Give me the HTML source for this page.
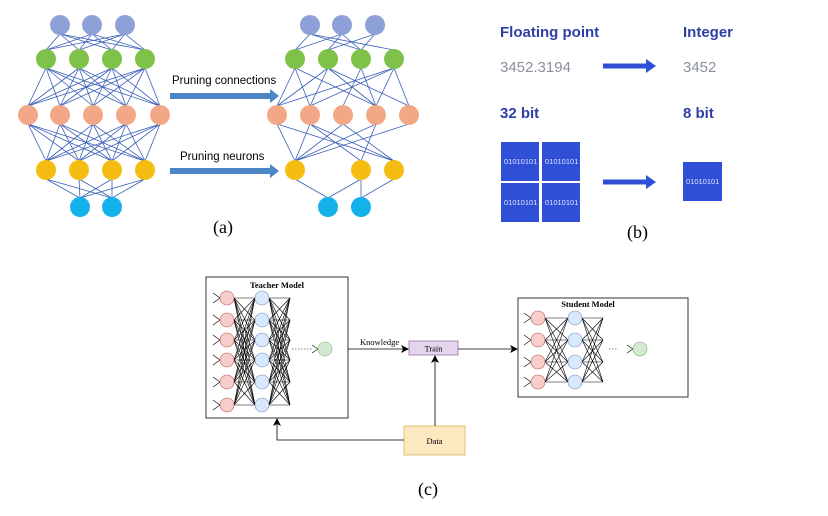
<!DOCTYPE html>
<html><head><meta charset="utf-8"><style>
body{margin:0;background:#fff;width:828px;height:516px;overflow:hidden}
svg{display:block}
.b{font-family:"Liberation Sans",sans-serif;font-weight:bold;fill:#2e3fa6;font-size:15px}
.g{font-family:"Liberation Sans",sans-serif;fill:#8a8f9c;font-size:15px}
.w{font-family:"Liberation Sans",sans-serif;fill:#dfe5ff;font-size:7.5px}
.s{font-family:"Liberation Serif",serif}
</style></head><body>
<svg id="s" width="828" height="516" viewBox="0 0 828 516" xmlns="http://www.w3.org/2000/svg">
<defs>
<marker id="ah" markerWidth="8" markerHeight="8" refX="7" refY="4" orient="auto" markerUnits="userSpaceOnUse"><path d="M0,0L8,4L0,8L2,4z" fill="#000"/></marker>
</defs>
<g id="L" stroke="#3a5fb8" stroke-width="0.8"></g>
<g id="N"></g>
<!-- pruning arrows -->
<text x="172" y="84" font-family="Liberation Sans" font-size="11.5">Pruning connections</text>
<rect x="170" y="93" width="100" height="6" fill="#4d86c6"/><polygon points="270,89 279,96 270,103" fill="#4d86c6"/>
<text x="180" y="160" font-family="Liberation Sans" font-size="11.5">Pruning neurons</text>
<rect x="170" y="168" width="100" height="6" fill="#4d86c6"/><polygon points="270,164 279,171 270,178" fill="#4d86c6"/>
<text x="213" y="233" class="s" font-size="18">(a)</text>
<!-- b -->
<text x="500" y="37" class="b">Floating point</text>
<text x="683" y="37" class="b">Integer</text>
<text x="500" y="72" class="g">3452.3194</text>
<text x="683" y="72" class="g">3452</text>
<text x="500" y="118" class="b">32 bit</text>
<text x="683" y="118" class="b">8 bit</text>
<rect x="603" y="63.5" width="44" height="5" fill="#2f4fd6"/><polygon points="646,59 656,66 646,73" fill="#2f4fd6"/>
<rect x="603" y="179.5" width="44" height="5" fill="#2f4fd6"/><polygon points="646,175 656,182 646,189" fill="#2f4fd6"/>
<rect x="501" y="142" width="38" height="39" fill="#2f4fd6"/><rect x="542" y="142" width="38" height="39" fill="#2f4fd6"/>
<rect x="501" y="183" width="38" height="39" fill="#2f4fd6"/><rect x="542" y="183" width="38" height="39" fill="#2f4fd6"/>
<rect x="683" y="162" width="39" height="39" fill="#2f4fd6"/>
<text x="504" y="164" class="w">01010101</text><text x="545" y="164" class="w">01010101</text>
<text x="504" y="205" class="w">01010101</text><text x="545" y="205" class="w">01010101</text>
<text x="686" y="184" class="w">01010101</text>
<text x="627" y="238" class="s" font-size="18">(b)</text>
<!-- c -->
<rect x="206" y="277" width="142" height="141" fill="none" stroke="#333" stroke-width="1"/>
<rect x="518" y="298" width="170" height="99" fill="none" stroke="#333" stroke-width="1"/>
<text x="277" y="288" class="s" font-size="8.5" font-weight="bold" text-anchor="middle">Teacher Model</text>
<text x="588" y="307" class="s" font-size="8.5" font-weight="bold" text-anchor="middle">Student Model</text>
<g id="C" stroke="#000" stroke-width="0.6" fill="none"></g>
<g id="CN"></g>
<rect x="409" y="341" width="49" height="14" fill="#e4d5ec" stroke="#9673a6" stroke-width="0.8"/>
<text x="433.5" y="351.5" class="s" font-size="8.5" text-anchor="middle">Train</text>
<rect x="404" y="426" width="61" height="29" fill="#fde9c0" stroke="#d6b656" stroke-width="0.8"/>
<text x="434.5" y="444" class="s" font-size="8.5" text-anchor="middle">Data</text>
<g stroke="#000" stroke-width="0.8" fill="none">
<line x1="348" y1="349" x2="408" y2="349" marker-end="url(#ah)"/>
<line x1="458" y1="349" x2="517" y2="349" marker-end="url(#ah)"/>
<line x1="435" y1="426" x2="435" y2="356" marker-end="url(#ah)"/>
<polyline points="404,440 277,440 277,419" marker-end="url(#ah)"/>
</g>
<text x="360" y="345" class="s" font-size="8.5">Knowledge</text>
<text x="418" y="495" class="s" font-size="18">(c)</text>
</svg>
<script>
var NS="http://www.w3.org/2000/svg";
function el(p,t,a){var e=document.createElementNS(NS,t);for(var k in a)e.setAttribute(k,a[k]);document.getElementById(p).appendChild(e);return e;}
var cols=["#8ea0d8","#7fc24a","#f2a886","#f5bd12","#14b1ea"];
var ys=[25,59,115,170,207];
var Lx=[[60,92,125],[46,79,112,145],[28,60,93,126,160],[46,79,112,145],[80,112]];
var Rx=[[310,342,375],[295,328,361,394],[277,310,343,376,409],[295,361,394],[328,361]];
function line(p,x1,y1,x2,y2){el(p,"line",{x1:x1,y1:y1,x2:x2,y2:y2});}
for(var l=0;l<4;l++){for(var i of Lx[l])for(var j of Lx[l+1])line("L",i,ys[l]+9,j,ys[l+1]-9);}
var seed=7;function rnd(){seed=(seed*9301+49297)%233280;return seed/233280;}
for(var l=0;l<4;l++){for(var a=0;a<Rx[l].length;a++)for(var b=0;b<Rx[l+1].length;b++){if(rnd()<0.45||a==b)line("L",Rx[l][a],ys[l]+9,Rx[l+1][b],ys[l+1]-9);}}
for(var l=0;l<5;l++){for(var x of Lx[l])el("N","circle",{cx:x,cy:ys[l],r:10,fill:cols[l]});for(var x of Rx[l])el("N","circle",{cx:x,cy:ys[l],r:10,fill:cols[l]});}
function net(rx,bx,endx,yr,yb,dot1,dot2,gx,gy){
 for(var a of yr)for(var b of yb){line("C",rx+7,a,bx-7,b);}
 for(var a of yb)for(var b of yb){line("C",bx+7,a,endx,b);}
 for(var a of yr){line("C",rx-14,a-5,rx-7,a);line("C",rx-14,a+5,rx-7,a);}
 el("C","line",{x1:dot1,y1:gy,x2:dot2,y2:gy,"stroke-dasharray":"1.5,1.5"});
 line("C",gx-13,gy-4,gx-7,gy);line("C",gx-13,gy+4,gx-7,gy);
 for(var a of yr)el("CN","circle",{cx:rx,cy:a,r:7,fill:"#f8cecc",stroke:"#b85450","stroke-width":0.6});
 for(var a of yb)el("CN","circle",{cx:bx,cy:a,r:7,fill:"#dae8fc",stroke:"#6c8ebf","stroke-width":0.6});
 el("CN","circle",{cx:gx,cy:gy,r:7,fill:"#d5e8d4",stroke:"#82b366","stroke-width":0.6});
}
var t=[298,320,340,360,382,405];
net(227,262,290,t,t,292,312,325,349);
var s=[318,340,362,382];
net(538,575,603,s,s,609,618,640,349);
</script>
</body></html>
